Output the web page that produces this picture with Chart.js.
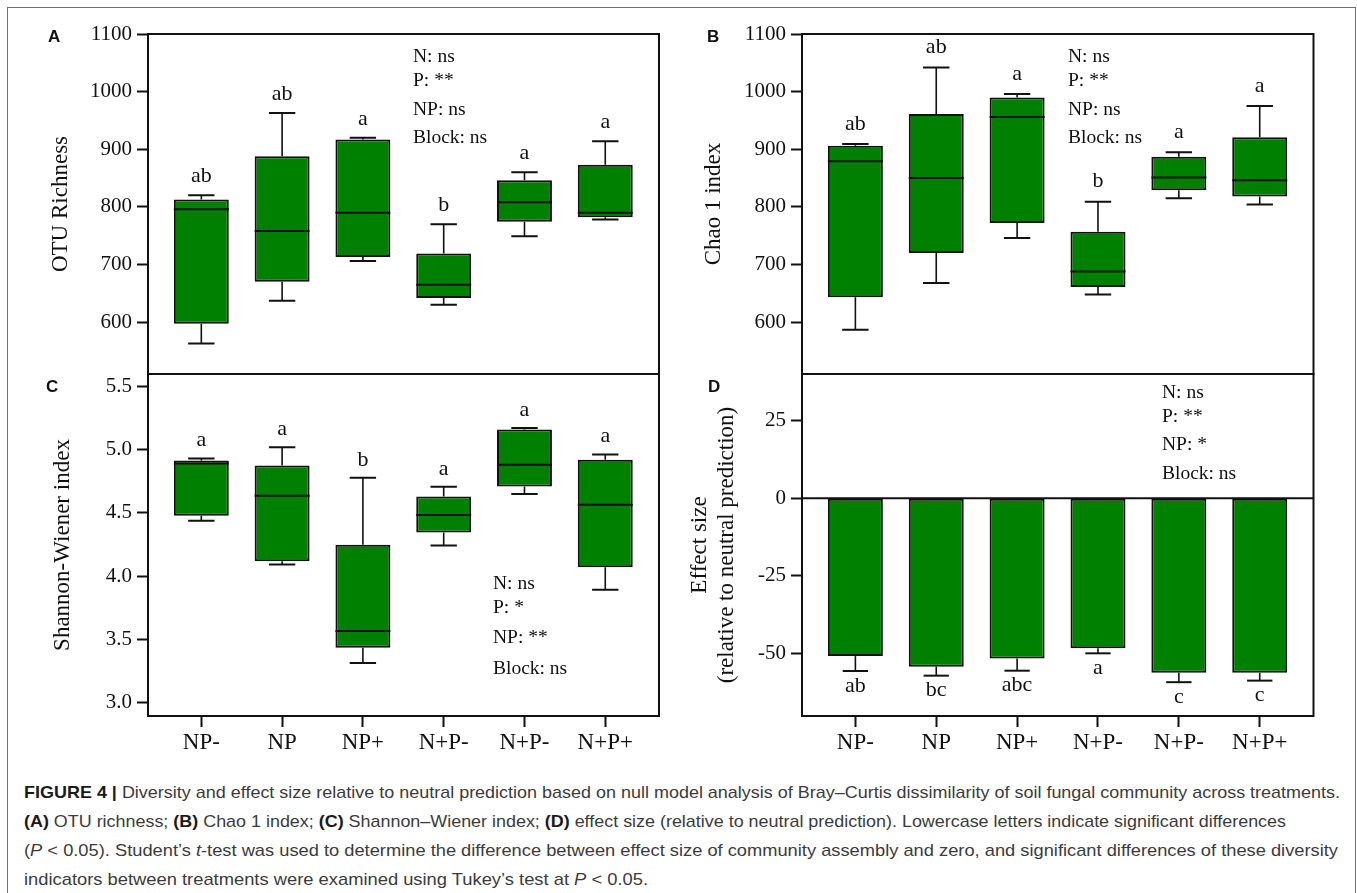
<!DOCTYPE html>
<html>
<head>
<meta charset="utf-8">
<script src="https://cdn.jsdelivr.net/npm/chart.js@4.4.1/dist/chart.umd.min.js"></script>
<style>
html,body{margin:0;padding:0;background:#fff;}
#fig{position:relative;width:1357px;height:893px;overflow:hidden;background:#fff;}
#frame{position:absolute;left:7px;top:7px;width:1349px;height:940px;border:1px solid #6e6e6e;box-sizing:border-box;}
canvas{position:absolute;}
.pl{position:absolute;font-family:'Liberation Sans',Arial,sans-serif;font-weight:bold;font-size:17px;line-height:18px;color:#111;}
.st{position:absolute;font-family:'Liberation Serif','Times New Roman',serif;font-size:19.5px;line-height:20px;color:#111;white-space:nowrap;}
.cap{position:absolute;left:24px;white-space:nowrap;font-family:'Liberation Sans',Arial,sans-serif;font-size:17px;line-height:20px;color:#3b3b3b;transform-origin:0 50%;}
.cap b{color:#1a1a1a;}
</style>
</head>
<body>
<div id="fig">
<div id="frame"></div>
<canvas id="cA" width="680" height="400" style="left:0;top:0"></canvas>
<canvas id="cB" width="680" height="400" style="left:654px;top:0"></canvas>
<canvas id="cC" width="680" height="430" style="left:0;top:340px"></canvas>
<canvas id="cD" width="680" height="430" style="left:654px;top:340px"></canvas>
<div class="cap" id="cap1" style="top:783px"><b>FIGURE 4 |</b> Diversity and effect size relative to neutral prediction based on null model analysis of Bray–Curtis dissimilarity of soil fungal community across treatments.</div>
<div class="cap" id="cap2" style="top:812px"><b>(A)</b> OTU richness; <b>(B)</b> Chao 1 index; <b>(C)</b> Shannon–Wiener index; <b>(D)</b> effect size (relative to neutral prediction). Lowercase letters indicate significant differences</div>
<div class="cap" id="cap3" style="top:841px">(<i>P</i> &lt; 0.05). Student’s <i>t</i>-test was used to determine the difference between effect size of community assembly and zero, and significant differences of these diversity</div>
<div class="cap" id="cap4" style="top:870px">indicators between treatments were examined using Tukey’s test at <i>P</i> &lt; 0.05.</div>
</div>
<script>
// ---------------- data ----------------
const categories = ['NP-', 'NP', 'NP+', 'N+P-', 'N+P-', 'N+P+'];

// (A) OTU richness
const otuMin = [563, 637, 706, 630, 749, 778];
const otuQ1  = [597, 670, 713, 642, 774, 782];
const otuMed = [796, 758, 790, 665, 808, 790];
const otuQ3  = [813, 888, 917, 719, 846, 873];
const otuMax = [820, 963, 920, 770, 860, 914];
const otuLetters = ['ab', 'ab', 'a', 'b', 'a', 'a'];
const otuTicks = [600, 700, 800, 900, 1000, 1100];

// (B) Chao 1 index
const chaoMin = [587, 668, 746, 648, 815, 804];
const chaoQ1  = [643, 720, 772, 661, 829, 818];
const chaoMed = [879, 850, 956, 688, 851, 846];
const chaoQ3  = [906, 961, 990, 757, 887, 921];
const chaoMax = [909, 1042, 996, 809, 895, 975];
const chaoLetters = ['ab', 'ab', 'a', 'b', 'a', 'a'];
const chaoTicks = [600, 700, 800, 900, 1000, 1100];

// (C) Shannon-Wiener index
const shanMin = [4.438, 4.092, 3.314, 4.242, 4.649, 3.892];
const shanQ1  = [4.477, 4.118, 3.435, 4.345, 4.709, 4.071];
const shanMed = [4.891, 4.635, 3.567, 4.483, 4.880, 4.564];
const shanQ3  = [4.915, 4.875, 4.248, 4.630, 5.160, 4.920];
const shanMax = [4.930, 5.020, 4.778, 4.706, 5.171, 4.962];
const shanLetters = ['a', 'a', 'b', 'a', 'a', 'a'];
const shanTicks = [3.0, 3.5, 4.0, 4.5, 5.0, 5.5];

// (D) Effect size
const effMean = [-50.9, -54.3, -51.7, -48.4, -56.3, -56.3];
const effErr  = [4.8, 2.9, 3.9, 1.6, 3.0, 2.5];
const effLetters = ['ab', 'bc', 'abc', 'a', 'c', 'c'];
const effTicks = [-50, -25, 0, 25];

// statistics text
const statsA = ['N: ns', 'P: **', 'NP: ns', 'Block: ns'];
const statsB = ['N: ns', 'P: **', 'NP: ns', 'Block: ns'];
const statsC = ['N: ns', 'P: *', 'NP: **', 'Block: ns'];
const statsD = ['N: ns', 'P: **', 'NP: *', 'Block: ns'];

// ---------------- drawing ----------------
const SERIF = "'Liberation Serif','Times New Roman',Times,serif";
const GREEN = '#008000';
const INK = '#111';
Chart.defaults.font.family = SERIF;
Chart.defaults.color = INK;
Chart.defaults.animation = false;

function yAxis(min, max, ticks, fmt, title, titlePad) {
  return {
    type: 'linear', min: min, max: max,
    afterFit(s) { s.width = 148; },
    afterBuildTicks(s) { s.ticks = ticks.map(v => ({value: v})); },
    ticks: {font: {size: 21}, color: INK, padding: 5, callback: (v) => fmt(v)},
    grid: {drawOnChartArea: false, drawTicks: true, tickLength: 11, tickWidth: 2, tickColor: INK, color: INK},
    border: {display: false},
    title: {display: true, text: title, font: {size: 23}, color: INK, padding: {top: titlePad, bottom: 0}}
  };
}
function xAxis(show) {
  return {
    type: 'linear', min: -0.66, max: 5.665, offset: false, display: show,
    afterBuildTicks(s) { s.ticks = categories.map((c, i) => ({value: i})); },
    afterFit(s) { if (show) s.height = 54; },
    ticks: {font: {size: 23}, color: INK, padding: 2, maxRotation: 0, autoSkip: false,
            callback: (v) => categories[v]},
    grid: {drawOnChartArea: false, drawTicks: true, tickLength: 11, tickWidth: 2, tickColor: INK, color: INK, offset: false},
    border: {display: false}
  };
}
const framePlugin = {
  id: 'frame',
  afterDraw(chart) {
    const {ctx, chartArea: a} = chart;
    ctx.save(); ctx.strokeStyle = INK; ctx.lineWidth = 2;
    ctx.strokeRect(a.left, a.top, a.right - a.left, a.bottom - a.top);
    ctx.restore();
  }
};
function boxDeco(lo, q1, med, q3, hi, letters, gap) {
  return {
    id: 'boxDeco',
    afterDatasetsDraw(chart) {
      const ctx = chart.ctx, xs = chart.scales.x, ys = chart.scales.y;
      const bars = chart.getDatasetMeta(0).data;
      ctx.save();
      ctx.strokeStyle = INK; ctx.fillStyle = INK;
      categories.forEach((c, i) => {
        const x = xs.getPixelForValue(i);
        const w = bars[i].width, half = w / 2, cap = w * 0.24;
        const pHi = ys.getPixelForValue(hi[i]), pQ3 = ys.getPixelForValue(q3[i]);
        const pQ1 = ys.getPixelForValue(q1[i]), pLo = ys.getPixelForValue(lo[i]);
        const pMed = ys.getPixelForValue(med[i]);
        ctx.lineWidth = 1.6;
        ctx.beginPath();
        ctx.moveTo(x, pHi); ctx.lineTo(x, pQ3);
        ctx.moveTo(x, pQ1); ctx.lineTo(x, pLo);
        ctx.stroke();
        ctx.lineWidth = 2;
        ctx.beginPath();
        ctx.moveTo(x - cap, pHi); ctx.lineTo(x + cap, pHi);
        ctx.moveTo(x - cap, pLo); ctx.lineTo(x + cap, pLo);
        ctx.moveTo(x - half, pMed); ctx.lineTo(x + half, pMed);
        ctx.stroke();
        ctx.font = '22px ' + SERIF; ctx.textAlign = 'center'; ctx.textBaseline = 'middle';
        ctx.fillText(letters[i], x, pHi - gap);
      });
      ctx.restore();
    }
  };
}
const effDeco = {
  id: 'effDeco',
  afterDatasetsDraw(chart) {
    const ctx = chart.ctx, xs = chart.scales.x, ys = chart.scales.y, a = chart.chartArea;
    const bars = chart.getDatasetMeta(0).data;
    ctx.save();
    ctx.strokeStyle = INK; ctx.fillStyle = INK;
    const z = ys.getPixelForValue(0);
    ctx.lineWidth = 2;
    ctx.beginPath(); ctx.moveTo(a.left, z); ctx.lineTo(a.right, z); ctx.stroke();
    categories.forEach((c, i) => {
      const x = xs.getPixelForValue(i);
      const cap = bars[i].width * 0.23;
      const pM = ys.getPixelForValue(effMean[i]);
      const pE = ys.getPixelForValue(effMean[i] - effErr[i]);
      ctx.lineWidth = 1.6;
      ctx.beginPath(); ctx.moveTo(x, pM); ctx.lineTo(x, pE); ctx.stroke();
      ctx.lineWidth = 2;
      ctx.beginPath(); ctx.moveTo(x - cap, pE); ctx.lineTo(x + cap, pE); ctx.stroke();
      ctx.font = '22px ' + SERIF; ctx.textAlign = 'center'; ctx.textBaseline = 'middle';
      ctx.fillText(effLetters[i], x, pE + 15);
    });
    ctx.restore();
  }
};
function boxDataset(q1, q3) {
  return {
    type: 'bar',
    data: categories.map((c, i) => ({x: i, y: [q1[i], q3[i]]})),
    backgroundColor: GREEN, borderColor: INK, borderWidth: 2, borderSkipped: false,
    barPercentage: 0.68, categoryPercentage: 1
  };
}
function makeChart(id, padding, xShow, yScale, dataset, deco) {
  return new Chart(document.getElementById(id), {
    type: 'bar',
    data: {datasets: [dataset]},
    options: {
      responsive: false, devicePixelRatio: 1, animation: false, events: [],
      layout: {padding: padding},
      plugins: {legend: {display: false}, tooltip: {enabled: false}},
      scales: {x: xAxis(xShow), y: yScale}
    },
    plugins: [deco, framePlugin]
  });
}
const intFmt = v => String(v);
const decFmt = v => Number(v).toFixed(1);

makeChart('cA', {left: 0, top: 34, right: 21, bottom: 26}, false,
  yAxis(510, 1100, otuTicks, intFmt, 'OTU Richness', 47),
  boxDataset(otuQ1, otuQ3), boxDeco(otuMin, otuQ1, otuMed, otuQ3, otuMax, otuLetters, 19));
makeChart('cB', {left: 0, top: 34, right: 20.5, bottom: 26}, false,
  yAxis(510, 1100, chaoTicks, intFmt, 'Chao 1 index', 46),
  boxDataset(chaoQ1, chaoQ3), boxDeco(chaoMin, chaoQ1, chaoMed, chaoQ3, chaoMax, chaoLetters, 20));
makeChart('cC', {left: 0, top: 34, right: 21, bottom: 0}, true,
  yAxis(2.895, 5.598, shanTicks, decFmt, 'Shannon-Wiener index', 49),
  boxDataset(shanQ1, shanQ3), boxDeco(shanMin, shanQ1, shanMed, shanQ3, shanMax, shanLetters, 18));
makeChart('cD', {left: 0, top: 34, right: 20.5, bottom: 0}, true,
  yAxis(-70.2, 40, effTicks, intFmt, ['Effect size', '(relative to neutral prediction)'], 32),
  {type: 'bar', data: categories.map((c, i) => ({x: i, y: effMean[i]})),
   backgroundColor: GREEN, borderColor: INK, borderWidth: 2, borderSkipped: false,
   barPercentage: 0.68, categoryPercentage: 1},
  effDeco);

// ---------------- text overlays ----------------
const fig = document.getElementById('fig');
function addDiv(cls, text, left, top) {
  const d = document.createElement('div');
  d.className = cls; d.textContent = text;
  d.style.left = left + 'px'; d.style.top = top + 'px';
  fig.appendChild(d);
}
[['A', 48, 27.6], ['B', 707, 27.6], ['C', 46, 377.6], ['D', 708, 377.6]].forEach(p => addDiv('pl', p[0], p[1], p[2]));
const statRows = [
  [statsA, 413, [56, 80, 109, 137]],
  [statsB, 1068, [56, 80, 109, 137]],
  [statsC, 493, [583, 607, 637, 668]],
  [statsD, 1162, [392, 416, 444, 473]]
];
statRows.forEach(r => r[0].forEach((t, k) => addDiv('st', t, r[1], r[2][k] - 10)));

function fitCaption() {
  const targets = {cap1: 1316, cap2: 1262, cap3: 1314, cap4: 624};
  Object.keys(targets).forEach(id => {
    const el = document.getElementById(id);
    el.style.transform = 'none';
    const w = el.getBoundingClientRect().width;
    el.style.transform = 'scaleX(' + (targets[id] / w) + ')';
  });
}
fitCaption();
if (document.fonts && document.fonts.ready) document.fonts.ready.then(fitCaption);
</script>
</body>
</html>
